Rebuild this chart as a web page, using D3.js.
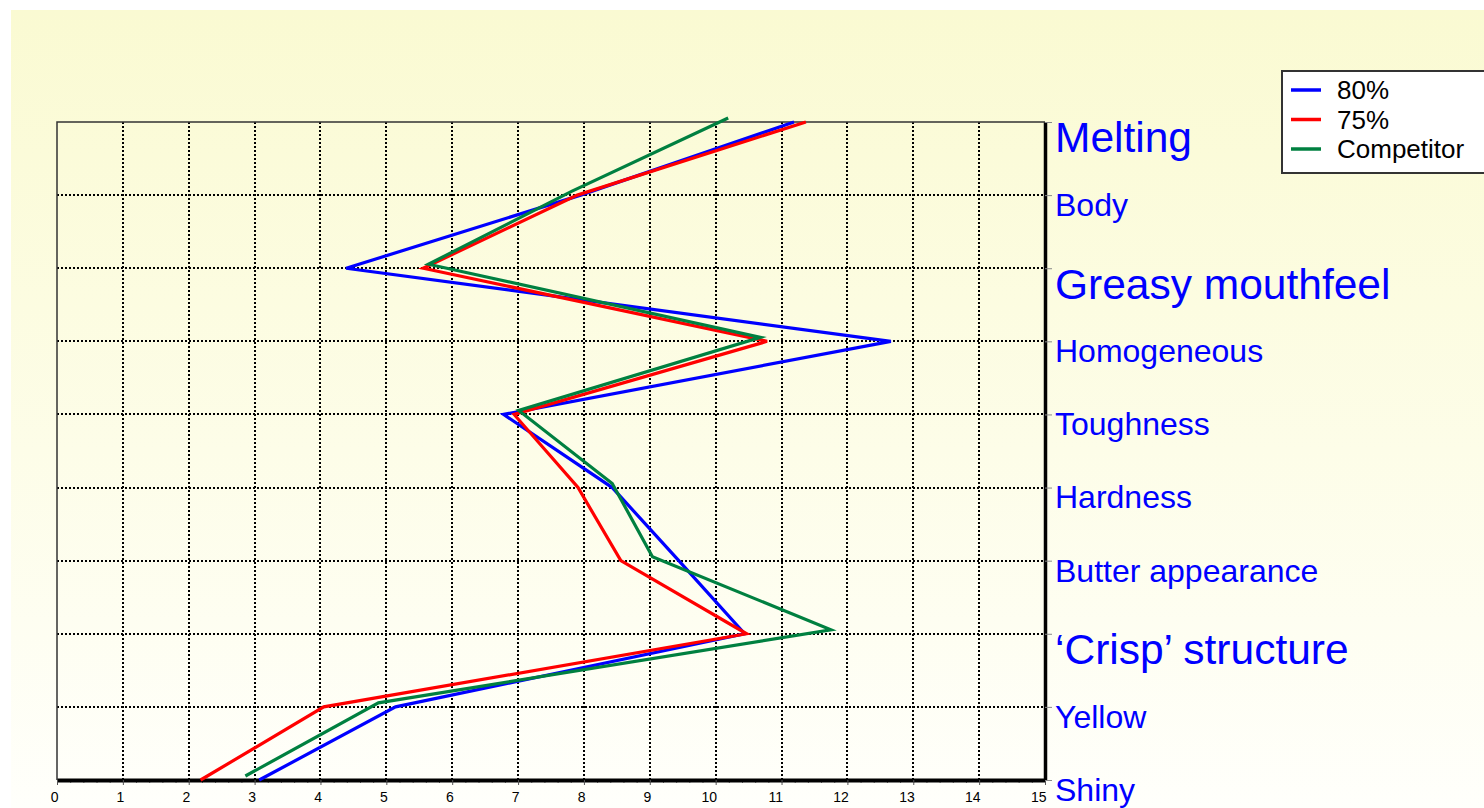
<!DOCTYPE html>
<html>
<head>
<meta charset="utf-8">
<script src="https://cdn.jsdelivr.net/npm/d3@7"></script>
<style>
  body { margin: 0; background: #fff; }
  svg { display: block; font-family: "Liberation Sans", Arial, sans-serif; }
</style>
</head>
<body>
<div class="graphic"></div>
<script>
// sensory attributes, top to bottom
const categories = ["Melting", "Body", "Greasy mouthfeel", "Homogeneous", "Toughness",
  "Hardness", "Butter appearance", "\u2018Crisp\u2019 structure", "Yellow", "Shiny"];
const emphasized = ["Melting", "Greasy mouthfeel", "\u2018Crisp\u2019 structure"];

const seriesNames = ["80%", "75%", "Competitor"];
const values80 = [11.19, 7.95, 4.39, 12.66, 6.78, 8.43, 9.44, 10.44, 5.14, 3.07];
const values75 = [11.37, 7.90, 5.56, 10.78, 6.94, 7.91, 8.56, 10.47, 4.05, 2.18];
const valuesComp = [10.19, 7.82, 5.64, 10.68, 7.01, 8.43, 9.04, 11.75, 4.88, 2.86];

const xTicks = d3.range(0, 16);

const width = 1484, height = 808;
const plotLeft = 57, plotRight = 1045, plotTop = 122, plotBottom = 780;

const svg = d3.select(".graphic").append("svg")
  .attr("width", width)
  .attr("height", height);

const defs = svg.append("defs");
const bg = defs.append("linearGradient")
  .attr("id", "bgGradient")
  .attr("x1", "0%").attr("x2", "0%")
  .attr("y1", "0%").attr("y2", "100%");
bg.append("stop").attr("offset", "0%").attr("stop-color", "#fafad2");
bg.append("stop").attr("offset", "55%").attr("stop-color", "#fdfde8");
bg.append("stop").attr("offset", "100%").attr("stop-color", "#fffffb");

svg.append("rect")
  .attr("x", 11).attr("y", 10)
  .attr("width", width - 11).attr("height", height - 10)
  .attr("fill", "url(#bgGradient)");

const x = d3.scaleLinear().domain([0, 15]).range([plotLeft, plotRight]);
const y = d3.scalePoint().domain(categories).range([plotTop, plotBottom]);

// dotted grid
svg.append("g")
  .attr("shape-rendering", "crispEdges")
  .selectAll("line")
  .data(xTicks.slice(1, -1))
  .join("line")
  .attr("x1", d => Math.round(x(d))).attr("x2", d => Math.round(x(d)))
  .attr("y1", plotTop).attr("y2", plotBottom)
  .attr("stroke", "#000")
  .attr("stroke-width", 2)
  .attr("stroke-dasharray", "2,2");

svg.append("g")
  .attr("shape-rendering", "crispEdges")
  .selectAll("line")
  .data(categories.slice(1, -1))
  .join("line")
  .attr("x1", plotLeft).attr("x2", plotRight)
  .attr("y1", d => Math.round(y(d))).attr("y2", d => Math.round(y(d)))
  .attr("stroke", "#000")
  .attr("stroke-width", 2)
  .attr("stroke-dasharray", "2,2");

// thin frame top / left
svg.append("path")
  .attr("d", `M${plotLeft},${plotBottom}V${plotTop}H${plotRight}`)
  .attr("fill", "none")
  .attr("stroke", "#333")
  .attr("stroke-width", 1.5);

// bottom axis: minor ticks then major ticks
const minor = svg.append("g")
  .attr("transform", `translate(0,${plotBottom})`)
  .call(d3.axisBottom(x).tickValues(d3.range(0, 75).map(i => i / 5)).tickSize(3).tickFormat(""));
minor.select(".domain").remove();
minor.selectAll(".tick line").attr("stroke", "#777");

const xAxis = svg.append("g")
  .attr("transform", `translate(0,${plotBottom})`)
  .call(d3.axisBottom(x).tickValues(xTicks).tickSize(5).tickSizeOuter(0));
xAxis.select(".domain").attr("stroke", "#000").attr("stroke-width", 4);
xAxis.selectAll(".tick line").attr("stroke", "#555");
xAxis.selectAll(".tick text")
  .attr("fill", "#000")
  .attr("font-size", 14)
  .attr("font-family", "Liberation Sans, Arial, sans-serif")
  .attr("text-anchor", "end")
  .attr("dx", 1)
  .attr("y", 12)
  .attr("dy", "0.71em");

// right category axis
const yAxis = svg.append("g")
  .attr("transform", `translate(${plotRight},0)`)
  .call(d3.axisRight(y).tickSize(7).tickSizeOuter(0).tickFormat(""));
yAxis.select(".domain").attr("stroke", "#000").attr("stroke-width", 3.5);
yAxis.selectAll(".tick line").attr("stroke", "#888").attr("stroke-width", 1);

const labelSize = d => emphasized.includes(d) ? 42.5 : 32;

svg.append("g")
  .selectAll("text")
  .data(categories)
  .join("text")
  .attr("x", plotRight + 10)
  .attr("y", d => y(d) + labelSize(d) * 0.716 - (emphasized.includes(d) ? 0 : 2))
  .attr("font-size", labelSize)
  .attr("fill", "#0000ff")
  .text(d => d);

// series lines
const series = [
  { name: seriesNames[0], values: values80, color: "#0000ff", dy: 0 },
  { name: seriesNames[1], values: values75, color: "#ff0000", dy: 0 },
  { name: seriesNames[2], values: valuesComp, color: "#008040", dy: -4 }
];

const line = d3.line()
  .x(d => x(d.v))
  .y(d => y(d.c));

svg.append("g")
  .selectAll("path")
  .data(series)
  .join("path")
  .attr("transform", s => `translate(0,${s.dy})`)
  .attr("d", s => line(s.values.map((v, i) => ({ v: v, c: categories[i] }))))
  .attr("fill", "none")
  .attr("stroke", s => s.color)
  .attr("stroke-width", 3.2)
  .attr("stroke-linejoin", "miter");

// legend
const legend = svg.append("g").attr("transform", "translate(1282,71)");
legend.append("rect")
  .attr("width", 210).attr("height", 102)
  .attr("fill", "#fff")
  .attr("stroke", "#333")
  .attr("stroke-width", 2);

const item = legend.selectAll(".item")
  .data(series)
  .join("g")
  .attr("class", "item")
  .attr("transform", (d, i) => `translate(0,${19 + i * 29.5})`);
item.append("line")
  .attr("x1", 9).attr("x2", 39)
  .attr("stroke", d => d.color)
  .attr("stroke-width", 3.5);
item.append("text")
  .attr("x", 55)
  .attr("dy", "0.36em")
  .attr("font-size", 26)
  .attr("fill", "#000")
  .text(d => d.name);
</script>
</body>
</html>
